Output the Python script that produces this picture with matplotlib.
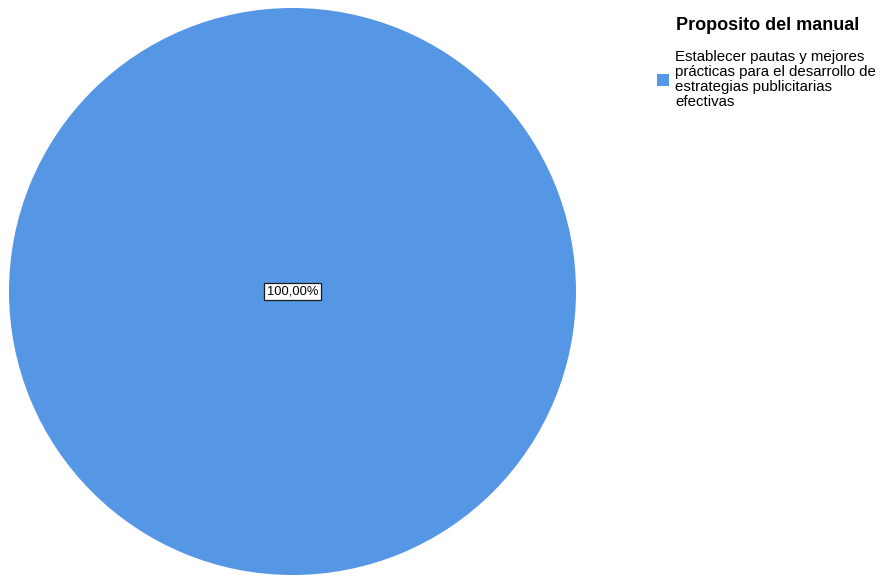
import matplotlib
matplotlib.use("Agg")
import matplotlib.pyplot as plt

plt.rcParams["font.family"] = ["Liberation Sans", "DejaVu Sans"]

# Distribución de respuestas sobre el propósito del manual
categorias = ["Establecer pautas y mejores\nprácticas para el desarrollo de\nestrategias publicitarias\nefectivas"]
porcentajes = [100.0]
colores = ["#5597E5"]
titulo_leyenda = "Proposito del manual"

W, H = 880, 576
fig = plt.figure(figsize=(W / 100, H / 100), dpi=100)
# círculo centrado en (292, 291) px, radio ~284 px
ax = fig.add_axes([9 / W, 1 / H, 567 / W, 567 / H])

wedges, _ = ax.pie(porcentajes, colors=colores, startangle=90, counterclock=False,
                   radius=1.0, wedgeprops=dict(linewidth=0))
ax.set_xlim(-1, 1)
ax.set_ylim(-1, 1)
ax.set_aspect("equal")
ax.axis("off")

etiqueta = f"{porcentajes[0]:.2f}".replace(".", ",") + "%"
ax.text(0, 0, etiqueta, ha="center", va="center", fontsize=9.3,
        bbox=dict(boxstyle="square,pad=0.2", facecolor="white",
                  edgecolor="#1a1a1a", linewidth=0.9))

# título de la leyenda alineado con el texto de las entradas
fig.text(676 / W, 1 - 25 / H, titulo_leyenda, ha="left", va="center",
         fontsize=13, fontweight="bold")

leg = fig.legend(wedges, categorias, loc="upper left",
                 bbox_to_anchor=(646 / W, 1 - 40 / H), frameon=False,
                 fontsize=10.8, handlelength=0.8, handleheight=0.8,
                 handletextpad=0.45, borderpad=0.2)
for t in leg.get_texts():
    t.set_linespacing(1.08)

fig.savefig("out.png", dpi=100)
